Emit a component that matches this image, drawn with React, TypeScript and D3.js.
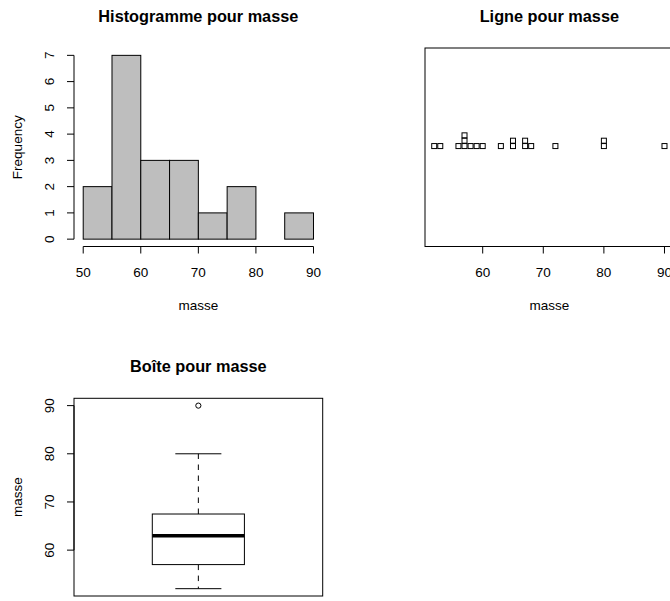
import React from "react";
import * as d3 from "d3";

// ---- data ----
const masse: number[] = [52, 53, 56, 57, 57, 57, 58, 59, 60, 63, 65, 65, 67, 67, 68, 72, 80, 80, 90];
const histBreaks: number[] = [50, 55, 60, 65, 70, 75, 80, 85, 90];
const histXTicks: number[] = [50, 60, 70, 80, 90];
const histYTicks: number[] = [0, 1, 2, 3, 4, 5, 6, 7];
const stripXTicks: number[] = [60, 70, 80, 90];
const boxYTicks: number[] = [60, 70, 80, 90];
const titles: string[] = ["Histogramme pour masse", "Ligne pour masse", "Boîte pour masse"];
const varLabel = "masse";
const freqLabel = "Frequency";

const W = 670;
const H = 601;
const FONT = "'Liberation Sans', Arial, Helvetica, sans-serif";
const AX = 13.5;
const TT = 16.3;

// plot regions (R-like mfrow 2x2)
const left1 = 74, right1 = 322.7;
const left2 = 425, right2 = 673.7;
const top1 = 48, bot1 = 246.5;
const top2 = 398.3, bot2 = 596;

function ext(lo: number, hi: number): [number, number] {
  const d = (hi - lo) * 0.04;
  return [lo - d, hi + d];
}

function fivenum(v: number[]): number[] {
  const x = [...v].sort((a, b) => a - b);
  const n = x.length;
  const n4 = Math.floor((n + 3) / 2) / 2;
  const d = [1, n4, (n + 1) / 2, n + 1 - n4, n];
  return d.map((k) => 0.5 * (x[Math.floor(k) - 1] + x[Math.ceil(k) - 1]));
}

export default function App() {
  // ---------- histogram ----------
  const counts = histBreaks.slice(0, -1).map((lo, i) => {
    const hi = histBreaks[i + 1];
    return masse.filter((d) => (i === 0 ? d >= lo : d > lo) && d <= hi).length;
  });
  const maxC = d3.max(counts) as number;
  const hx = d3.scaleLinear().domain(ext(histBreaks[0], histBreaks[histBreaks.length - 1])).range([left1, right1]);
  const hy = d3.scaleLinear().domain(ext(0, maxC)).range([bot1, top1]);

  // ---------- strip chart ----------
  const [mn, mx] = d3.extent(masse) as [number, number];
  const sx = d3.scaleLinear().domain(ext(mn, mx)).range([left2, right2]);
  const sy = d3.scaleLinear().domain([0, 1]).range([bot1, top1]);
  const baseLevel = 0.506;
  const stackStep = 0.027;
  const seen = new Map<number, number>();
  const stripPts = masse.map((v) => {
    const k = seen.get(v) ?? 0;
    seen.set(v, k + 1);
    return { v, k };
  });

  // ---------- box plot ----------
  const fn = fivenum(masse);
  const iqr = fn[3] - fn[1];
  const upFence = fn[3] + 1.5 * iqr;
  const loFence = fn[1] - 1.5 * iqr;
  const whiskHi = d3.max(masse.filter((d) => d <= upFence)) as number;
  const whiskLo = d3.min(masse.filter((d) => d >= loFence)) as number;
  const outliers = masse.filter((d) => d > upFence || d < loFence);
  const by = d3.scaleLinear().domain(ext(mn, mx)).range([bot2, top2]);
  const bxs = d3.scaleLinear().domain([0.46, 1.54]).range([left1, right1]);
  const bc = bxs(1);
  const bw = bxs(1.2) - bxs(1);
  const cw = bw / 2;

  const stroke = "#000";
  const tick = 7;

  return (
    <svg width={W} height={H} style={{ position: "absolute", left: 0, top: 0, background: "#fff" }} fontFamily={FONT}>
      <rect x={0} y={0} width={W} height={H} fill="#fff" />

      {/* ===== Histogram ===== */}
      <text x={(left1 + right1) / 2} y={21.5} fontSize={TT} fontWeight="bold" textAnchor="middle">{titles[0]}</text>
      {counts.map((c, i) => (
        <rect key={i} x={hx(histBreaks[i])} y={hy(c)} width={hx(histBreaks[i + 1]) - hx(histBreaks[i])}
          height={hy(0) - hy(c)} fill="#bebebe" stroke={stroke} strokeWidth={1} />
      ))}
      {/* x axis */}
      <line x1={hx(histXTicks[0])} x2={hx(histXTicks[histXTicks.length - 1])} y1={bot1} y2={bot1} stroke={stroke} />
      {histXTicks.map((t) => (
        <g key={t}>
          <line x1={hx(t)} x2={hx(t)} y1={bot1} y2={bot1 + tick} stroke={stroke} />
          <text x={hx(t)} y={276.5} fontSize={AX} textAnchor="middle">{t}</text>
        </g>
      ))}
      {/* y axis */}
      <line x1={left1} x2={left1} y1={hy(histYTicks[0])} y2={hy(histYTicks[histYTicks.length - 1])} stroke={stroke} />
      {histYTicks.map((t) => (
        <g key={t}>
          <line x1={left1 - tick} x2={left1} y1={hy(t)} y2={hy(t)} stroke={stroke} />
          <text transform={`translate(54,${hy(t)}) rotate(-90)`} fontSize={AX} textAnchor="middle">{t}</text>
        </g>
      ))}
      <text x={(left1 + right1) / 2} y={310} fontSize={AX} textAnchor="middle">{varLabel}</text>
      <text transform={`translate(21.5,${(top1 + bot1) / 2}) rotate(-90)`} fontSize={AX} textAnchor="middle">{freqLabel}</text>

      {/* ===== Strip chart ===== */}
      <text x={(left2 + right2) / 2} y={21.5} fontSize={TT} fontWeight="bold" textAnchor="middle">{titles[1]}</text>
      <rect x={left2} y={top1} width={right2 - left2} height={bot1 - top1} fill="none" stroke={stroke} />
      {stripPts.map((p, i) => (
        <rect key={i} x={sx(p.v) - 2.5} y={sy(baseLevel + p.k * stackStep) - 2.5} width={5} height={5}
          fill="none" stroke={stroke} strokeWidth={1} />
      ))}
      <line x1={sx(stripXTicks[0])} x2={sx(stripXTicks[stripXTicks.length - 1])} y1={bot1} y2={bot1} stroke={stroke} />
      {stripXTicks.map((t) => (
        <g key={t}>
          <line x1={sx(t)} x2={sx(t)} y1={bot1} y2={bot1 + tick} stroke={stroke} />
          <text x={sx(t)} y={276.5} fontSize={AX} textAnchor="middle">{t}</text>
        </g>
      ))}
      <text x={(left2 + right2) / 2} y={310} fontSize={AX} textAnchor="middle">{varLabel}</text>

      {/* ===== Box plot ===== */}
      <text x={(left1 + right1) / 2} y={371.5} fontSize={TT} fontWeight="bold" textAnchor="middle">{titles[2]}</text>
      <rect x={left1} y={top2} width={right1 - left1} height={bot2 - top2} fill="none" stroke={stroke} />
      {/* whiskers */}
      <line x1={bc} x2={bc} y1={by(fn[3])} y2={by(whiskHi)} stroke={stroke} strokeDasharray="5.5,5.5" />
      <line x1={bc} x2={bc} y1={by(fn[1])} y2={by(whiskLo)} stroke={stroke} strokeDasharray="5.5,5.5" />
      <line x1={bc - cw} x2={bc + cw} y1={by(whiskHi)} y2={by(whiskHi)} stroke={stroke} />
      <line x1={bc - cw} x2={bc + cw} y1={by(whiskLo)} y2={by(whiskLo)} stroke={stroke} />
      <rect x={bc - bw} y={by(fn[3])} width={2 * bw} height={by(fn[1]) - by(fn[3])} fill="#fff" stroke={stroke} />
      <line x1={bc - bw} x2={bc + bw} y1={by(fn[2])} y2={by(fn[2])} stroke={stroke} strokeWidth={3.5} />
      {outliers.map((o, i) => (
        <circle key={i} cx={bc} cy={by(o)} r={2.6} fill="none" stroke={stroke} />
      ))}
      <line x1={left1} x2={left1} y1={by(boxYTicks[0])} y2={by(boxYTicks[boxYTicks.length - 1])} stroke={stroke} />
      {boxYTicks.map((t) => (
        <g key={t}>
          <line x1={left1 - tick} x2={left1} y1={by(t)} y2={by(t)} stroke={stroke} />
          <text transform={`translate(54,${by(t)}) rotate(-90)`} fontSize={AX} textAnchor="middle">{t}</text>
        </g>
      ))}
      <text transform={`translate(21.5,${(top2 + bot2) / 2}) rotate(-90)`} fontSize={AX} textAnchor="middle">{varLabel}</text>
    </svg>
  );
}
